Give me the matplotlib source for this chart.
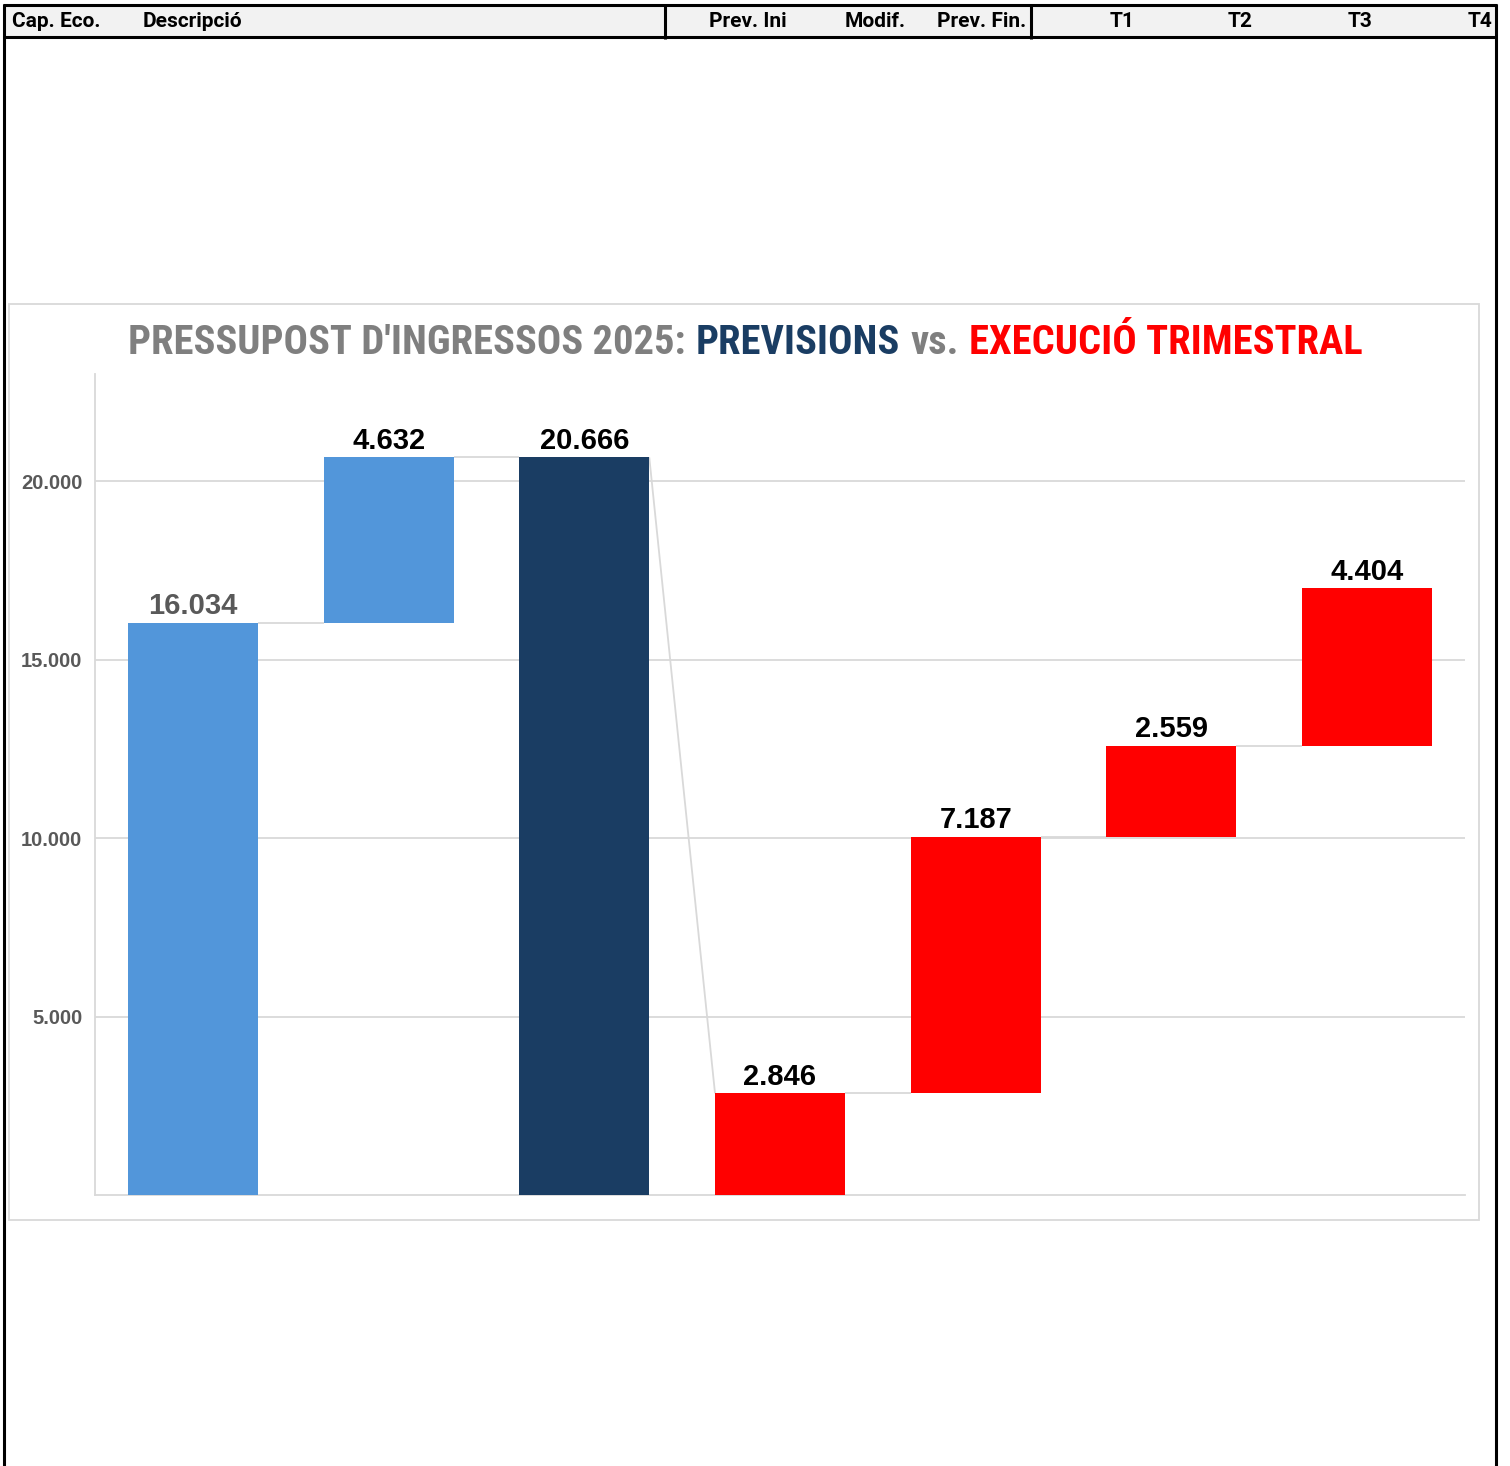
import matplotlib
matplotlib.use('Agg')
import matplotlib.pyplot as plt
from matplotlib import font_manager as fm
from matplotlib.patches import Rectangle
from matplotlib.lines import Line2D

# ---------------- data ----------------
categories = ["Prev. Ini", "Modif.", "Prev. Fin.", "T1", "T2", "T3", "T4"]
values = [16034, 4632, 20666, 2846, 7187, 2559, 4404]
kinds = ["start", "delta", "total", "start", "delta", "delta", "delta"]
labels = ["16.034", "4.632", "20.666", "2.846", "7.187", "2.559", "4.404"]
yticks = [5000, 10000, 15000, 20000]
ytick_labels = ["5.000", "10.000", "15.000", "20.000"]
header_left = ["Cap. Eco.", "Descripció"]
header_right = ["Prev. Ini", "Modif.", "Prev. Fin.", "T1", "T2", "T3", "T4"]
title_parts = ["PRESSUPOST D'INGRESSOS 2025:", "PREVISIONS", "vs.", "EXECUCIÓ TRIMESTRAL"]

# ---------------- styles ----------------
LIGHT = "#5296DA"
NAVY = "#1A3D63"
RED = "#FF0000"
GRAY = "#7F7F7F"
GRID = "#D9D9D9"
colors = [LIGHT, LIGHT, NAVY, RED, RED, RED, RED]
label_colors = ["#595959", "black", "black", "black", "black", "black", "black"]

names = {f.name for f in fm.fontManager.ttflist}
if "Roboto Condensed" in names:
    COND = dict(family="Roboto Condensed")
elif "Liberation Sans Narrow" in names:
    COND = dict(family="Liberation Sans Narrow")
else:
    COND = dict(family="DejaVu Sans", stretch="condensed")
HEAD = dict(family="Roboto") if "Roboto" in names else COND
SANS = "Liberation Sans"

W, H = 1510, 1466
fig = plt.figure(figsize=(W / 100, H / 100), dpi=100)
fig.patch.set_facecolor("white")


def fx(x):
    return x / W


def fy(y):
    return 1 - y / H


def fline(x1, y1, x2, y2, color="black", lw=2.2, z=5):
    fig.add_artist(Line2D([fx(x1), fx(x2)], [fy(y1), fy(y2)], color=color,
                          lw=lw, transform=fig.transFigure, zorder=z,
                          solid_capstyle="butt"))


# ---------------- header band ----------------
fig.add_artist(Rectangle((fx(3), fy(37)), fx(1497) - fx(3), (37 - 5) / H,
                         transform=fig.transFigure, facecolor="#F2F2F2",
                         edgecolor="none", zorder=1))
fline(3, 5, 1497, 5)
fline(3, 36.5, 1497, 36.5)
fline(3.5, 4, 3.5, H)
fline(1495.5, 4, 1495.5, H)
fline(664.5, 4, 664.5, 39)
fline(1030.5, 4, 1030.5, 39)

hx_left = [12, 143]
for t, x in zip(header_left, hx_left):
    fig.text(fx(x), fy(27), t, ha="left", va="baseline", fontsize=15,
             fontweight="bold", color="black", **HEAD)
hx_right = [787, 906, 1026, 1134, 1253, 1373, 1492]
for t, x in zip(header_right, hx_right):
    fig.text(fx(x), fy(27), t, ha="right", va="baseline", fontsize=15,
             fontweight="bold", color="black", **HEAD)

# ---------------- chart frame ----------------
fig.add_artist(Rectangle((fx(8.5), fy(1220)), fx(1479) - fx(8.5), (1220 - 303.5) / H,
                         transform=fig.transFigure, facecolor="none",
                         edgecolor=GRID, lw=1.3, zorder=2))

# ---------------- axes ----------------
ax = fig.add_axes([fx(95), fy(1195), fx(1465) - fx(95), (1195 - 374) / H])
ax.set_xlim(-0.5, 6.5)
ax.set_ylim(0, 23000)
ax.set_facecolor("none")
for s in ["top", "right"]:
    ax.spines[s].set_visible(False)
for s in ["left", "bottom"]:
    ax.spines[s].set_color(GRID)
    ax.spines[s].set_linewidth(1.3)
ax.set_yticks(yticks)
ax.set_yticklabels(ytick_labels)
ax.tick_params(axis="y", length=0, pad=9, labelsize=14.5, labelcolor="#595959")
for lab in ax.get_yticklabels():
    lab.set_fontweight("bold")
    lab.set_family(SANS)
ax.set_xticks([])
ax.grid(axis="y", color=GRID, lw=1.3, zorder=0)
ax.set_axisbelow(True)

# waterfall geometry
bottoms, tops = [], []
running = 0
for v, k in zip(values, kinds):
    if k in ("start", "total"):
        b, t = 0, v
    else:
        b, t = running, running + v
    bottoms.append(b)
    tops.append(t)
    running = t

xs = list(range(len(values)))
bw = 0.664
heights = [t - b for b, t in zip(bottoms, tops)]
ax.bar(xs, heights, bottom=bottoms, width=bw, color=colors, zorder=3)

# connectors
for i in range(len(values) - 1):
    y0 = tops[i]
    y1 = bottoms[i + 1] if kinds[i + 1] == "delta" else tops[i + 1]
    ax.plot([xs[i] + bw / 2, xs[i + 1] - bw / 2], [y0, y1], color=GRID,
            lw=1.3, zorder=2, solid_capstyle="butt")

for x, t, lab, c in zip(xs, tops, labels, label_colors):
    ax.annotate(lab, (x, t), xytext=(0, 2), textcoords="offset points",
                ha="center", va="bottom", fontsize=21, fontweight="bold",
                color=c, family=SANS)

# ---------------- title ----------------
tcolors = [GRAY, NAVY, GRAY, RED]
fs = 30
texts = [fig.text(0, fy(354), p, ha="left", va="baseline", fontsize=fs,
                  fontweight="bold", color=c, **COND)
         for p, c in zip(title_parts, tcolors)]
r = fig.canvas.get_renderer()
ws = [t.get_window_extent(r).width for t in texts]
gap = fs * 0.25 * 100 / 72
total = sum(ws) + gap * (len(ws) - 1)
target = 1360 - 128
fs2 = fs * target / total
for t in texts:
    t.set_fontsize(fs2)
ws = [t.get_window_extent(r).width for t in texts]
gap = fs2 * 0.25 * 100 / 72
x = 128
for t, w in zip(texts, ws):
    t.set_x(fx(x))
    x += w + gap

fig.savefig("out.png", dpi=100, facecolor="white")
